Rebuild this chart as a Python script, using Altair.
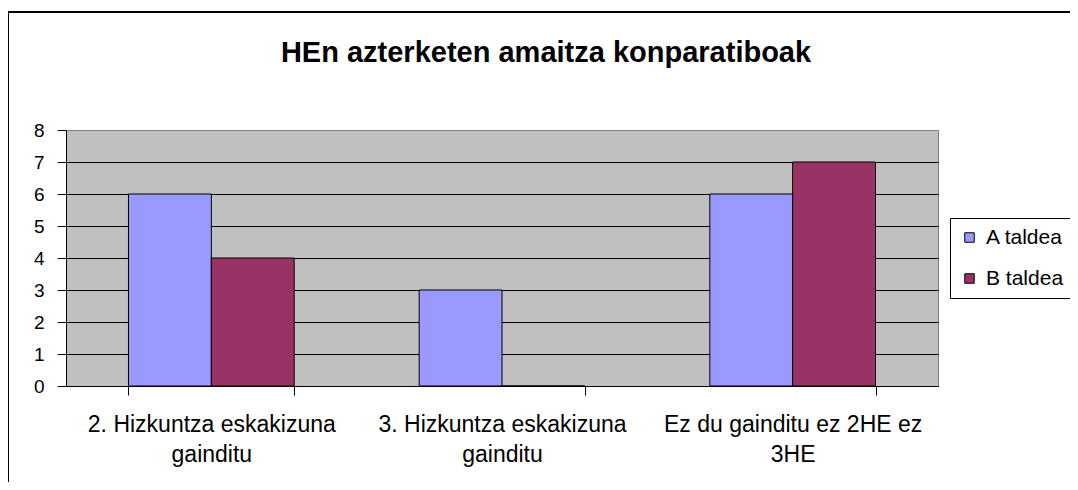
import altair as alt
import pandas as pd

categories = [
    "2. Hizkuntza eskakizuna\ngainditu",
    "3. Hizkuntza eskakizuna\ngainditu",
    "Ez du gainditu ez 2HE ez\n3HE",
]
series = ["A taldea", "B taldea"]
a_values = [6, 3, 6]
b_values = [4, 0, 7]
y_ticks = [0, 1, 2, 3, 4, 5, 6, 7, 8]
colors = ["#9999FF", "#993366"]
title_text = "HEn azterketen amaitza konparatiboak"

rows = []
for c, a, b in zip(categories, a_values, b_values):
    rows.append({"cat": c, "grp": series[0], "value": a})
    rows.append({"cat": c, "grp": series[1], "value": b})
df = pd.DataFrame(rows)

FONT = "Liberation Sans"

bars = alt.Chart(df).mark_bar(stroke="black", strokeWidth=1).encode(
    x=alt.X(
        "cat:N",
        sort=categories,
        scale=alt.Scale(paddingInner=0.43, paddingOuter=0.215),
        axis=alt.Axis(
            title=None,
            labelExpr="split(datum.label, '\\n')",
            labelAngle=0,
            labelFontSize=23,
            labelLineHeight=30,
            labelFont=FONT,
            labelColor="black",
            labelPadding=18,
            labelBaseline="top",
            labelLimit=0,
            tickBand="extent",
            tickSize=9,
            tickColor="black",
            domainColor="black",
            grid=False,
        ),
    ),
    xOffset=alt.XOffset("grp:N", sort=series),
    y=alt.Y(
        "value:Q",
        scale=alt.Scale(domain=[0, 8], nice=False),
        axis=alt.Axis(
            title=None,
            values=y_ticks,
            labelFontSize=19,
            labelFont=FONT,
            labelColor="black",
            labelPadding=13,
            tickSize=9,
            tickColor="black",
            domainColor="black",
            gridColor={"condition": {"test": "datum.value == 8", "value": "#808080"}, "value": "black"},
            gridOpacity=1,
        ),
    ),
    color=alt.Color(
        "grp:N",
        sort=series,
        scale=alt.Scale(domain=series, range=colors),
        legend=alt.Legend(
            title=None,
            orient="none",
            legendX=884,
            legendY=88,
            strokeColor="black",
            padding=9,
            symbolType="square",
            symbolSize=90,
            symbolStrokeColor="black",
            symbolStrokeWidth=1,
            symbolOpacity=1,
            labelFontSize=21,
            labelFont=FONT,
            labelColor="black",
            labelOffset=6,
            labelLimit=0,
            rowPadding=19,
        ),
    ),
)

frame = alt.Chart(pd.DataFrame({"k": [0]})).mark_rect(
    fill="transparent", stroke="black", strokeWidth=2
).encode(
    x=alt.value(-58), x2=alt.value(1200), y=alt.value(-118), y2=alt.value(600)
)

title = alt.Chart(pd.DataFrame({"t": [title_text]})).mark_text(
    font=FONT, fontSize=29, fontWeight="bold", color="black",
    align="center", baseline="alphabetic",
).encode(
    text="t:N", x=alt.value(480), y=alt.value(-68)
)

chart = alt.layer(bars, frame, title).properties(
    width=872,
    height=256,
    autosize=alt.AutoSizeParams(type="none"),
    padding={"left": 58, "top": 122, "right": 132, "bottom": 96},
    background="white",
).configure_view(
    fill="#C0C0C0", stroke="#808080", strokeWidth=1
)

chart.save("out.html", embed_options={"renderer": "svg", "actions": False})
